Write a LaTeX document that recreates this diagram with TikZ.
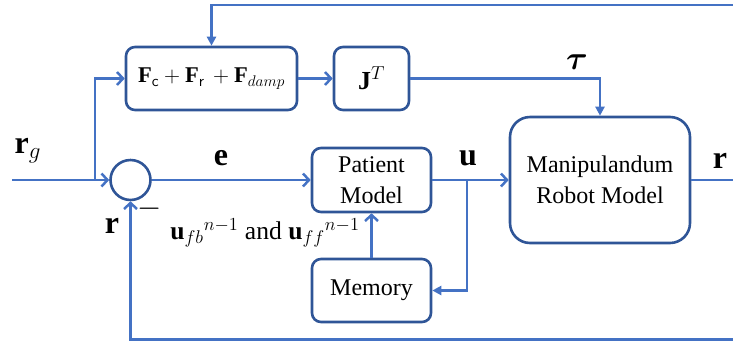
\documentclass[tikz,border=0pt]{standalone}
\usepackage{amsmath}
\usepackage{graphicx}
\usepackage{fontspec}
\setmainfont{Liberation Serif}
\usetikzlibrary{arrows.meta}
\definecolor{linec}{HTML}{4472C4}
\definecolor{boxc}{HTML}{2F5597}
\newcommand{\biglbl}[1]{\scalebox{1.6}{#1}}
\begin{document}
\begin{tikzpicture}[x=1pt,y=-1pt,
  blk/.style={draw=boxc, line width=2.6pt, rounded corners=9pt, fill=white, align=center,
    font=\fontsize{24}{31}\selectfont, inner sep=0pt},
  conn/.style={draw=linec, line width=2.5pt},
  openarr/.style={-{Straight Barb[length=6pt,width=13pt,line width=2.5pt]}},
  solidarr/.style={-{Triangle[length=9pt,width=9pt]}},
  lbl/.style={font=\fontsize{20}{22}\selectfont, inner sep=0pt}]
\useasboundingbox (0,0) rectangle (733,341);
\node[blk, minimum width=171pt, minimum height=63pt] (F) at (211.5,78.5)
  {\fontsize{21}{24}\selectfont\scalebox{1.07}{$\mathbf{F}_{\mathsf{c}}+\mathbf{F}_{\mathsf{r}}\,+\mathbf{F}_{damp}$}};
\node[blk, minimum width=75pt, minimum height=63pt] (J) at (371.5,78.5)
  {\fontsize{20}{22}\selectfont\scalebox{1.3}{$\mathbf{J}^{T}$}};
\node[blk, minimum width=180pt, minimum height=126pt, rounded corners=20pt] (R) at (600,180)
  {Manipulandum\\Robot Model};
\node[blk, minimum width=119pt, minimum height=64pt] (P) at (371.5,180) {Patient\\Model};
\node[blk, minimum width=119pt, minimum height=63pt] (M) at (371.5,290.5) {Memory};
\node[circle, draw=boxc, line width=2.6pt, minimum size=40pt, inner sep=0pt] (S) at (130.5,180) {};
\coordinate (in) at (12,180);
\coordinate (br) at (95,180);
\coordinate (tr) at (733,5);
\coordinate (ub) at (467,180);
\coordinate (out) at (733,180);
\coordinate (fb) at (733,339.5);
\draw[conn, openarr] (in) -- (S.west);
\draw[conn, openarr] (br) |- (F.west);
\draw[conn, solidarr] (tr) -| (F.north);
\draw[conn, openarr] (F.east) -- (J.west);
\draw[conn, solidarr] (J.east) -| (R.north);
\draw[conn, openarr] (S.east) -- (P.west);
\draw[conn, openarr] (P.east) -- (R.west);
\draw[conn, solidarr] (ub) |- (M.east);
\draw[conn, openarr] (M.north) -- (P.south);
\draw[conn] (R.east) -- (out);
\draw[conn, openarr] (fb) -| (S.south);
\node[lbl] (lrg) at (28,151) {\biglbl{$\mathbf{r}_{g}$}};
\node[lbl] (le) at (221,158) {\biglbl{$\mathbf{e}$}};
\node[lbl] (lu) at (468,158) {\biglbl{$\mathbf{u}$}};
\node[lbl] (lr) at (720,161) {\biglbl{$\mathbf{r}$}};
\node[lbl] (lt) at (577,62) {\biglbl{$\boldsymbol{\tau}$}};
\node[lbl] (lr2) at (112,226) {\biglbl{$\mathbf{r}$}};
\node[lbl] (lm) at (150,209) {\scalebox{1.5}{$-$}};
\node[font=\fontsize{20}{22}\selectfont, inner sep=0pt] (lab) at (265,233)
  {\scalebox{1.28}{$\mathbf{u}_{fb}{}^{n-1}$ and $\mathbf{u}_{ff}{}^{n-1}$}};
\end{tikzpicture}
\end{document}
